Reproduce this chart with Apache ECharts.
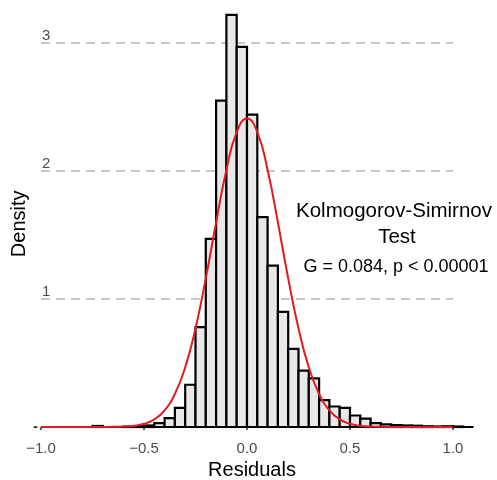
<!DOCTYPE html>
<html>
<head>
<meta charset="utf-8">
<script src="https://cdn.jsdelivr.net/npm/echarts@6/dist/echarts.min.js"></script>
<style>html,body{margin:0;padding:0;background:#fff;}#c{width:497px;height:480px;}</style>
</head>
<body>
<div id="c"></div>
<script>
// Histogram bins (left/right edges) and densities
var binLeft = [-1.00,-0.95,-0.90,-0.85,-0.80,-0.75,-0.70,-0.65,-0.60,-0.55,-0.50,-0.45,-0.40,-0.35,-0.30,-0.25,-0.20,-0.15,-0.10,-0.05,0.00,0.05,0.10,0.15,0.20,0.25,0.30,0.35,0.40,0.45,0.50,0.55,0.60,0.65,0.70,0.75,0.80,0.85,0.90,0.95,1.00,1.05];
var binRight = [-0.95,-0.90,-0.85,-0.80,-0.75,-0.70,-0.65,-0.60,-0.55,-0.50,-0.45,-0.40,-0.35,-0.30,-0.25,-0.20,-0.15,-0.10,-0.05,0.00,0.05,0.10,0.15,0.20,0.25,0.30,0.35,0.40,0.45,0.50,0.55,0.60,0.65,0.70,0.75,0.80,0.85,0.90,0.95,1.00,1.05,1.10];
var density = [0,0,0,0,0,0.008,0,0,0.003,0.006,0.012,0.03,0.07,0.15,0.33,0.78,1.47,2.55,3.22,2.97,2.44,1.64,1.26,0.90,0.61,0.44,0.38,0.21,0.16,0.15,0.09,0.065,0.03,0.02,0.015,0.012,0.01,0.006,0.004,0.006,0.004,0];

// Fitted normal curve
var curveX = [-1.00,-0.90,-0.80,-0.70,-0.65,-0.60,-0.55,-0.50,-0.45,-0.40,-0.35,-0.30,-0.25,-0.20,-0.15,-0.10,-0.05,0.00,0.05,0.10,0.15,0.20,0.25,0.30,0.35,0.40,0.45,0.50,0.55,0.60,0.65,0.70,0.80,0.90,1.00];
var curveY = [0,0,0,0.0003,0.001,0.0034,0.0096,0.025,0.060,0.130,0.258,0.466,0.770,1.161,1.598,2.008,2.303,2.410,2.303,2.008,1.598,1.161,0.770,0.466,0.258,0.130,0.060,0.025,0.0096,0.0034,0.001,0.0003,0,0,0];

var xTicks = [-1.0,-0.5,0.0,0.5,1.0];
var yTicks = [0,1,2,3];
var annotation = ['Kolmogorov-Simirnov','Test','G = 0.084, p < 0.00001'];

var histData = binLeft.map(function(l,i){return [l, binRight[i], density[i]];});
var curveData = curveX.map(function(x,i){return [x, curveY[i]];});

var chart = echarts.init(document.getElementById('c'), null, {renderer:'canvas'});
var font = 'Liberation Sans, Arial, sans-serif';
function fmtX(v){
  var s = Math.abs(v).toFixed(1);
  return v < 0 ? '\u2212' + s : s;
}
chart.setOption({
  animation:false,
  backgroundColor:'#ffffff',
  grid:{left:41, right:44, top:4.6, bottom:53, containLabel:false, outerBoundsMode:'none'},
  xAxis:{
    type:'value', min:xTicks[0], max:xTicks[xTicks.length-1], interval:0.5,
    name:'Residuals', nameLocation:'middle', nameGap:30,
    nameTextStyle:{fontFamily:font, fontSize:20, color:'#000', padding:[0,0,0,10]},
    axisLine:{show:false},
    axisTick:{show:true, length:3, lineStyle:{color:'#333', width:1.5}},
    axisLabel:{fontFamily:font, fontSize:15, color:'#4d4d4d', margin:14, formatter:fmtX},
    splitLine:{show:false}
  },
  yAxis:[{
    type:'value', min:0, max:3.3, interval:1,
    name:'Density', nameLocation:'middle', nameGap:12, nameRotate:90,
    nameTextStyle:{fontFamily:font, fontSize:20, color:'#000', padding:[0,16,0,0]},
    axisLine:{show:false}, axisTick:{show:false},
    axisLabel:{inside:true, margin:1, align:'left', verticalAlign:'bottom', fontFamily:font, fontSize:15, color:'#4d4d4d', showMaxLabel:false,
      formatter:function(v){return v===0 ? '' : String(v);}},
    splitLine:{show:true, showMinLine:false, showMaxLine:false, lineStyle:{type:[9,6], color:'#b8b8b8', width:1.5}}
  },{
    type:'value', min:0, max:3.3, interval:1, position:'left',
    axisLine:{show:false}, axisTick:{show:false}, splitLine:{show:false},
    axisLabel:{margin:3, fontFamily:font, fontSize:14, fontWeight:'bold', color:'#222', showMaxLabel:false,
      formatter:function(v){return v===0 ? '-' : '';}}
  }],
  series:[{
    type:'custom',
    clip:false,
    z:2,
    renderItem:function(params, api){
      var p0 = api.coord([api.value(0), 0]);
      var p1 = api.coord([api.value(1), api.value(2)]);
      return {
        type:'rect',
        shape:{x:p0[0], y:p1[1], width:p1[0]-p0[0], height:p0[1]-p1[1]},
        style:{fill:'#e8e8e8', stroke:'#000', lineWidth:2.2}
      };
    },
    encode:{x:[0,1], y:2},
    data:histData
  },{
    type:'line',
    z:5,
    smooth:true,
    symbol:'none',
    lineStyle:{color:'#e41a1c', width:2},
    data:curveData
  }],
  graphic:[
    {type:'text', x:394, y:211, style:{text:annotation[0], fontFamily:font, fontSize:20.5, fill:'#000', textAlign:'center', textVerticalAlign:'middle'}},
    {type:'text', x:397, y:237, style:{text:annotation[1], fontFamily:font, fontSize:20.5, fill:'#000', textAlign:'center', textVerticalAlign:'middle'}},
    {type:'text', x:396, y:267, style:{text:annotation[2], fontFamily:font, fontSize:18, fill:'#000', textAlign:'center', textVerticalAlign:'middle'}}
  ]
});
</script>
</body>
</html>
